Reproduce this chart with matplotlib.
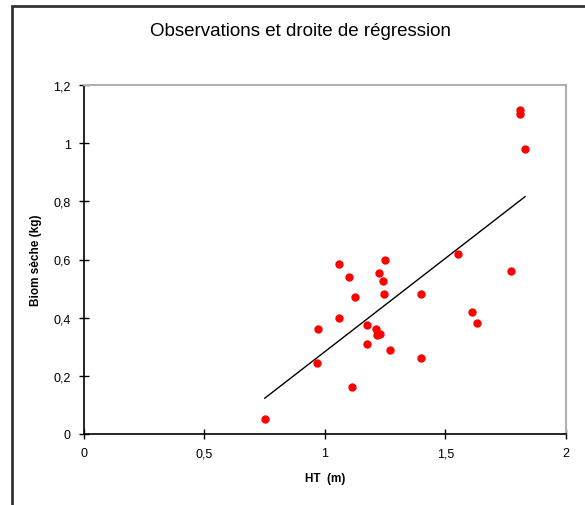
import numpy as np
import matplotlib
matplotlib.use("Agg")
import matplotlib.pyplot as plt
import matplotlib.patches as patch

# Observations (HT en m, biomasse seche en kg)
ht = [0.75, 0.965, 0.97, 1.06, 1.06, 1.10, 1.125, 1.11, 1.175, 1.175,
      1.21, 1.215, 1.23, 1.225, 1.24, 1.245, 1.25, 1.27, 1.40, 1.40,
      1.55, 1.61, 1.63, 1.77, 1.81, 1.81, 1.83]
biom = [0.05, 0.245, 0.36, 0.40, 0.585, 0.54, 0.47, 0.16, 0.375, 0.31,
        0.36, 0.34, 0.345, 0.555, 0.525, 0.48, 0.60, 0.29, 0.48, 0.26,
        0.62, 0.42, 0.38, 0.56, 1.115, 1.10, 0.98]

xticks = [0, 0.5, 1, 1.5, 2]
xlabels = ["0", "0,5", "1", "1,5", "2"]
yticks = [0, 0.2, 0.4, 0.6, 0.8, 1.0, 1.2]
ylabels = ["0", "0,2", "0,4", "0,6", "0,8", "1", "1,2"]

plt.rcParams['font.family'] = ['Liberation Sans', 'DejaVu Sans']

fig = plt.figure(figsize=(5.85, 5.06), dpi=100)
ax = fig.add_axes([84/585, 71/506, 482/585, 349/506])

# droite de regression
a, b = np.polyfit(ht, biom, 1)
xl = np.array([min(ht), max(ht)])
ax.plot(xl, a*xl + b, color="black", lw=1)

ax.plot(ht, biom, "o", color="red", ms=5, mec="red")

ax.set_xlim(0, 2)
ax.set_ylim(0, 1.2)
ax.set_xticks(xticks)
ax.set_xticklabels(xlabels)
ax.set_yticks(yticks)
ax.set_yticklabels(ylabels)
ax.tick_params(direction="inout", length=7, width=1, labelsize=9, pad=6)

for s in ["top", "right"]:
    ax.spines[s].set_color("#b0b0b0")
    ax.spines[s].set_linewidth(1.5)
for s in ["left", "bottom"]:
    ax.spines[s].set_linewidth(1.2)

ax.set_xlabel("HT  (m)", fontsize=8.5, fontweight="bold", labelpad=9)
ax.set_ylabel("Biom sèche (kg)", fontsize=8.5, fontweight="bold", labelpad=8)

fig.text(0.513, 0.937, "Observations et droite de régression", ha="center", va="center", fontsize=13.5)

# cadre du graphique
fig.patches.append(patch.Rectangle((12/585, -0.1), 1.2, 1 - 7/506 + 0.1, transform=fig.transFigure,
                                   fill=False, edgecolor="#333333", lw=2))

fig.savefig("out.png", dpi=100)
